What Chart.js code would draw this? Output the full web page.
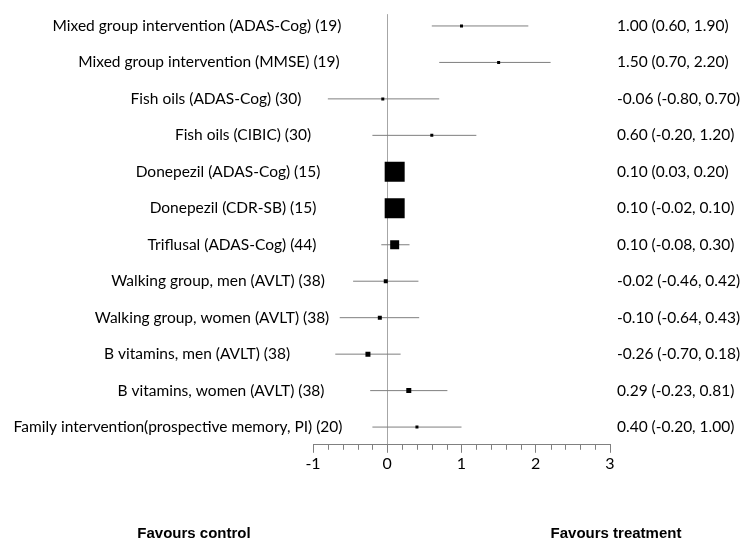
<!DOCTYPE html>
<html>
<head>
<meta charset="utf-8">
<script src="https://cdn.jsdelivr.net/npm/chart.js@4"></script>
<style>
	html, body { margin: 0; padding: 0; background: #fff; }
	#wrap { width: 742px; height: 548px; }
</style>
</head>
<body>
<div id="wrap"><canvas id="forest" width="742" height="548"></canvas></div>
<script>
// study rows, top to bottom
var studies = [
	"Mixed group intervention (ADAS-Cog) (19)",
	"Mixed group intervention (MMSE) (19)",
	"Fish oils (ADAS-Cog) (30)",
	"Fish oils (CIBIC) (30)",
	"Donepezil (ADAS-Cog) (15)",
	"Donepezil (CDR-SB) (15)",
	"Triflusal (ADAS-Cog) (44)",
	"Walking group, men (AVLT) (38)",
	"Walking group, women (AVLT) (38)",
	"B vitamins, men (AVLT) (38)",
	"B vitamins, women (AVLT) (38)",
	"Family intervention(prospective memory, PI) (20)",
];
var estimate = [1.0, 1.5, -0.06, 0.6, 0.1, 0.1, 0.1, -0.02, -0.1, -0.26, 0.29, 0.4];
var lower = [0.6, 0.7, -0.8, -0.2, 0.03, -0.02, -0.08, -0.46, -0.64, -0.7, -0.23, -0.2];
var upper = [1.9, 2.2, 0.7, 1.2, 0.2, 0.1, 0.3, 0.42, 0.43, 0.18, 0.81, 1.0];
// relative weight of each study (drawn as box size)
var weight = [3, 3, 3, 3, 20, 20, 9, 4, 4, 5, 5, 3];
var xTicks = [-1, 0, 1, 2, 3];

// where each study label sits horizontally (centre, px)
var labelCentre = [197, 209, 216, 243, 228, 233, 232, 218, 212, 197, 221, 178];

const FONT = "Lato, 'DejaVu Sans', sans-serif";

var ciSets = studies.map((s, i) => ({
	type: "scatter",
	data: [{ x: lower[i], y: i }, { x: upper[i], y: i }],
	showLine: true,
	borderColor: "#7f7f7f",
	borderWidth: 1,
	pointRadius: 0,
	order: 2,
}));

var boxSet = {
	type: "scatter",
	data: estimate.map((v, i) => ({ x: v, y: i })),
	pointStyle: "rect",
	pointRadius: weight.map((w) => w / Math.SQRT2),
	backgroundColor: "#000",
	borderWidth: 0,
	order: 1,
};

const sidePlugin = {
	id: "sideText",
	afterDraw(chart) {
		const ctx = chart.ctx;
		const xs = chart.scales.x;
		const ys = chart.scales.y;

		// minor ticks every 0.2
		ctx.save();
		ctx.strokeStyle = "#808080";
		ctx.lineWidth = 1;
		for (let k = 0; k <= 20; k++) {
			if (k % 5 === 0) continue;
			const v = -1 + k * 0.2;
			const px = Math.round(xs.getPixelForValue(v)) + 0.5;
			ctx.beginPath();
			ctx.moveTo(px, xs.top);
			ctx.lineTo(px, xs.top + 5);
			ctx.stroke();
		}

		ctx.fillStyle = "#000";
		ctx.font = "15.5px " + FONT;
		ctx.textBaseline = "middle";
		studies.forEach((s, i) => {
			const py = ys.getPixelForValue(i);
			ctx.textAlign = "center";
			ctx.fillText(s, labelCentre[i], py);
			ctx.textAlign = "left";
			const txt = `${estimate[i].toFixed(2)} (${lower[i].toFixed(2)}, ${upper[i].toFixed(2)})`;
			ctx.fillText(txt, 617, py);
		});

		ctx.font = "bold 15px 'Liberation Sans', Arial, sans-serif";
		ctx.textAlign = "center";
		ctx.fillText("Favours control", 194, 534);
		ctx.fillText("Favours treatment", 616, 534);
		ctx.restore();
	},
};

new Chart(document.getElementById("forest"), {
	type: "scatter",
	data: { datasets: [boxSet, ...ciSets] },
	plugins: [sidePlugin],
	options: {
		responsive: false,
		animation: false,
		layout: { padding: { left: 313, right: 132, top: 9, bottom: 74 } },
		plugins: { legend: { display: false }, tooltip: { enabled: false } },
		scales: {
			x: {
				type: "linear",
				min: -1,
				max: 3,
				afterBuildTicks: (scale) => {
					scale.ticks = xTicks.map((v) => ({ value: v }));
				},
				border: { display: true, color: "#808080", width: 1 },
				grid: {
					drawOnChartArea: true,
					color: (c) => (c.tick && c.tick.value === 0 ? "#a6a6a6" : "rgba(0,0,0,0)"),
					tickColor: "#808080",
					tickLength: 8,
				},
				ticks: {
					color: "#000",
					padding: 1,
					font: { family: FONT, size: 16 },
				},
			},
			y: {
				type: "linear",
				reverse: true,
				min: -0.324,
				max: 11.486,
				display: false,
			},
		},
	},
});
</script>
</body>
</html>
